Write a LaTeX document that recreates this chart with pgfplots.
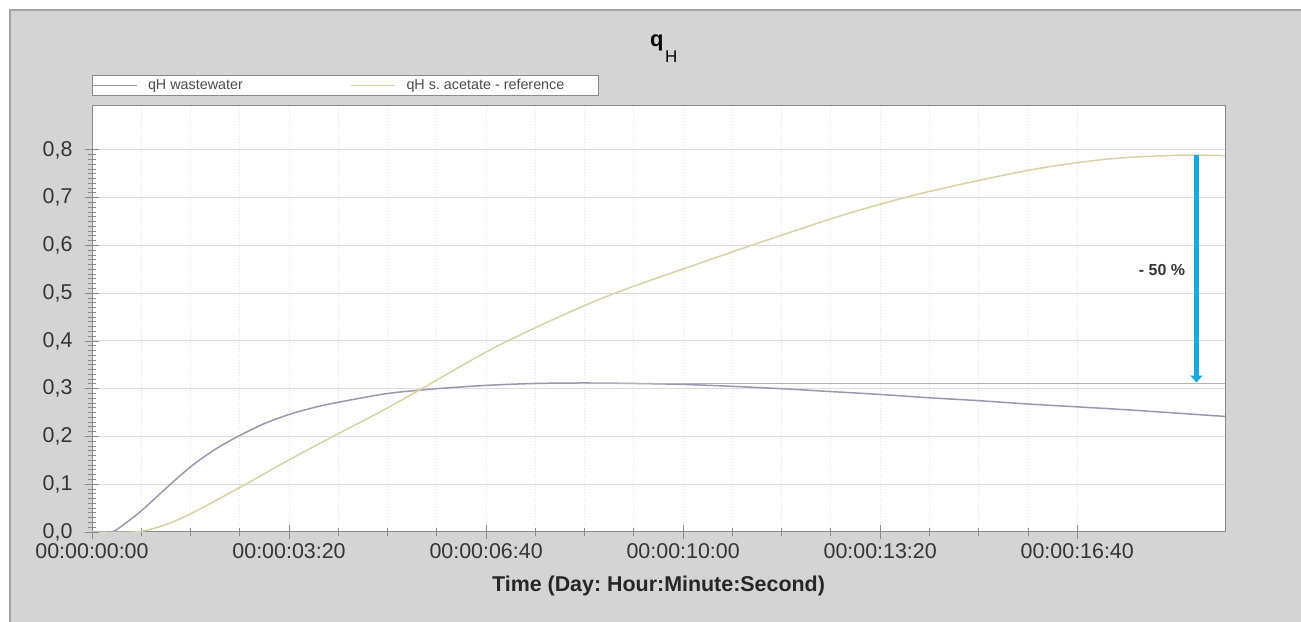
\documentclass[border=0pt]{standalone}
\usepackage{fontspec}
\setmainfont{Liberation Sans}
\usepackage{pgfplots}
\pgfplotsset{compat=1.18}
\usetikzlibrary{arrows.meta}
\frenchspacing
\definecolor{panel}{HTML}{D4D4D4}
\definecolor{panelborder}{HTML}{A4A4A4}
\definecolor{waste}{HTML}{9A98AE}
\definecolor{acet}{HTML}{D8D3A6}
\definecolor{arrowblue}{HTML}{1BA8DC}
\definecolor{ticktext}{HTML}{353535}
\definecolor{gridc}{HTML}{DCDCDC}
\definecolor{vgridc}{HTML}{E4E4E4}
\definecolor{axisc}{HTML}{8A8A8A}

\pgfplotstableread{
t v
0 0
20 0
35 0.020
51 0.046
78 0.097
101 0.138
125 0.173
149 0.201
175 0.227
203 0.248
230 0.263
251 0.272
300 0.290
350 0.300
400 0.307
450 0.311
500 0.312
550 0.311
600 0.309
650 0.305
700 0.300
750 0.294
800 0.288
850 0.281
900 0.275
950 0.268
1000 0.262
1050 0.256
1100 0.249
1150 0.242
}\wastewater

\pgfplotstableread{
t v
0 0
44 0
70 0.012
98 0.036
149 0.092
200 0.151
251 0.207
292 0.251
333 0.298
414 0.392
516 0.488
617 0.563
698 0.620
766 0.666
834 0.705
902 0.737
969 0.764
1037 0.782
1105 0.789
1150 0.788
}\acetate

\begin{document}
\begin{tikzpicture}[x=1bp,y=1bp]
\path[use as bounding box] (0,0) rectangle (1301,622);
\fill[white] (0,0) rectangle (1301,622);
\fill[panel] (10,0) rectangle (1301,612);
\draw[panelborder, line width=2.5bp] (10,0) -- (10,612) -- (1301,612);
\begin{axis}[
  at={(92bp,90bp)}, anchor=south west,
  scale only axis, width=1133bp, height=426bp,
  xmin=0, xmax=1150, ymin=0, ymax=0.892,
  axis background/.style={fill=white},
  axis line style={draw=axisc, line width=1bp},
  xtick pos=bottom, ytick pos=left,
  tick align=center,
  major tick length=14bp, minor tick length=8bp,
  every tick/.style={draw=axisc, line width=0.9bp},
  xtick={0,200,400,600,800,1000},
  xticklabels={00:00:00:00,00:00:03:20,00:00:06:40,00:00:10:00,00:00:13:20,00:00:16:40},
  minor x tick num=3,
  ytick={0,0.1,0.2,0.3,0.4,0.5,0.6,0.7,0.8},
  minor y tick num=9,
  ymajorgrids, xmajorgrids, xminorgrids,
  major grid style={draw=gridc, line width=1bp},
  minor grid style={draw=vgridc, line width=1bp},
  x grid style={draw=vgridc, dotted, line width=1bp},
  ticklabel style={font=\fontsize{21.5}{24}\selectfont, text=ticktext},
  yticklabel style={xshift=-9bp},
  xticklabel style={yshift=-1bp},
  /pgf/number format/.cd, use comma, fixed, fixed zerofill, precision=1, assume math mode=true,
  /pgfplots/.cd,
  xlabel={\bfseries Time (Day: Hour:Minute:Second)},
  xlabel style={font=\fontsize{21.5}{24}\selectfont, text=black!85, at={(axis description cs:0.5,0)}, anchor=base, yshift=-60bp},
  legend columns=2,
  legend cell align=left,
  legend image code/.code={\draw[#1] (0bp,0bp) -- (44bp,0bp);},
  legend style={at={(axis description cs:0,1)}, anchor=south west, yshift=10bp,
    draw=axisc, fill=white, inner sep=0pt, line width=1bp,
    font=\fontsize{14.4}{16}\selectfont, text=black!70,
    nodes={inner xsep=3bp, inner ysep=4bp}},
]
\addplot[waste, line width=1.5bp, smooth] table[x=t,y=v] {\wastewater};
\addlegendentry{\makebox[206bp][l]{\hspace{7bp}qH wastewater}}
\addplot[acet, line width=1.5bp, smooth] table[x=t,y=v] {\acetate};
\addlegendentry{\makebox[197bp][l]{\hspace{8bp}qH s. acetate - reference}}
\addplot[black!30, line width=1.2bp, forget plot] coordinates {(500,0.311) (1150,0.311)};
\addplot[arrowblue, line width=5bp, -{Triangle[width=12bp,length=7bp]}, forget plot] coordinates {(1121,0.79) (1121,0.313)};
\node[anchor=east, font=\bfseries\fontsize{16}{18}\selectfont, text=ticktext] at (axis cs:1113,0.549) {- 50 \%};
\end{axis}
\node[anchor=base west, font=\bfseries\fontsize{22}{24}\selectfont, inner sep=0pt] at (650,575) {q};
\node[anchor=base west, font=\fontsize{17}{19}\selectfont, inner sep=0pt] at (665,559) {H};
\end{tikzpicture}
\end{document}
